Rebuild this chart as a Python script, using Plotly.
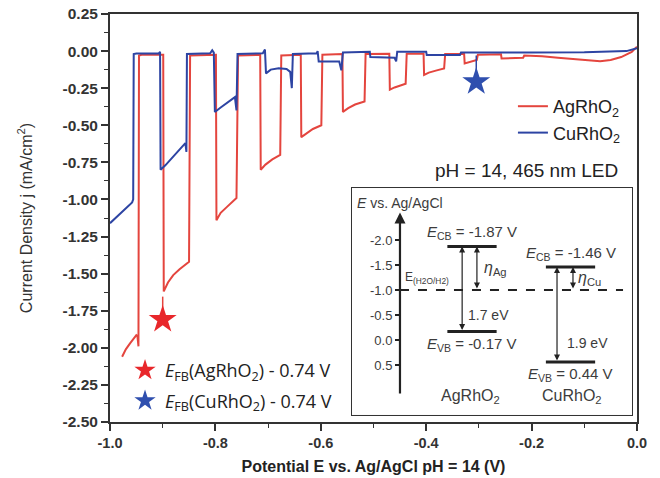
import plotly.graph_objects as go

# ---------------- data ----------------
# AgRhO2 chopped-light LSV: potential (V vs Ag/AgCl) and current density (mA/cm2)
ag_E = [-0.977, -0.970, -0.962, -0.955, -0.950, -0.948, -0.946, -0.945, -0.940, -0.899,
        -0.898, -0.890, -0.880, -0.868, -0.850, -0.848, -0.799,
        -0.798, -0.790, -0.778, -0.760, -0.757, -0.715,
        -0.714, -0.705, -0.692, -0.677, -0.675, -0.638,
        -0.637, -0.628, -0.615, -0.599, -0.597, -0.559,
        -0.558, -0.548, -0.535, -0.517, -0.515, -0.470,
        -0.469, -0.460, -0.439, -0.437, -0.405,
        -0.404, -0.395, -0.380, -0.366, -0.364, -0.328,
        -0.327, -0.315, -0.304, -0.302, -0.258,
        -0.257, -0.216, -0.214, -0.180, -0.150, -0.120, -0.090, -0.070, -0.050,
        -0.030, -0.010, 0.0]
ag_j = [-2.06, -2.01, -1.97, -1.935, -1.915, -1.92, -1.99, -0.03, -0.025, -0.025,
        -1.62, -1.56, -1.51, -1.47, -1.42, -0.03, -0.025,
        -1.14, -1.09, -1.05, -0.99, -0.03, -0.025,
        -0.80, -0.765, -0.73, -0.70, -0.03, -0.025,
        -0.58, -0.555, -0.525, -0.50, -0.025, -0.02,
        -0.41, -0.385, -0.36, -0.34, -0.02, -0.018,
        -0.26, -0.245, -0.22, -0.018, -0.018,
        -0.16, -0.145, -0.13, -0.117, -0.02, -0.02,
        -0.083, -0.07, -0.06, -0.025, -0.022,
        -0.05, -0.045, -0.03, -0.035, -0.045, -0.055, -0.065, -0.068, -0.06,
        -0.04, -0.005, 0.03]

# CuRhO2 chopped-light LSV
cu_E = [-1.000, -0.985, -0.970, -0.958, -0.956, -0.955, -0.950, -0.907, -0.905,
        -0.904, -0.895, -0.880, -0.860, -0.857, -0.855, -0.854, -0.810, -0.806, -0.803,
        -0.801, -0.790, -0.775, -0.763, -0.760, -0.758, -0.710, -0.706,
        -0.704, -0.695, -0.680, -0.665, -0.658, -0.655, -0.653, -0.608, -0.606,
        -0.604, -0.565, -0.561, -0.558, -0.507,
        -0.506, -0.460, -0.457, -0.455, -0.400,
        -0.399, -0.336, -0.334, -0.200, -0.100, -0.020, 0.0]
cu_j = [-1.16, -1.11, -1.065, -1.02, -1.00, -0.02, -0.016, -0.014, -0.005,
        -0.80, -0.77, -0.71, -0.63, -0.62, -0.68, -0.02, -0.015, 0.005, -0.01,
        -0.41, -0.38, -0.34, -0.31, -0.40, -0.02, -0.015, 0.01,
        -0.15, -0.125, -0.115, -0.12, -0.14, -0.25, -0.02, -0.015, 0.0,
        -0.07, -0.07, -0.13, -0.01, -0.005,
        -0.04, -0.045, -0.07, -0.005, -0.005,
        -0.027, -0.027, -0.01, -0.01, -0.008, 0.0, 0.02]

# flat-band potentials - 0.74 V (star markers) and the curve point above each
efb_names = ["AgRhO<sub>2</sub>", "CuRhO<sub>2</sub>"]
efb_E = [-0.900, -0.305]
efb_j = [-1.81, -0.207]
efb_curve_j = [-1.655, -0.03]

# inset band diagram (V vs Ag/AgCl)
materials = ["AgRhO<sub>2</sub>", "CuRhO<sub>2</sub>"]
E_CB = [-1.87, -1.46]
E_VB = [-0.17, 0.44]
gap_text = ["1.7 eV", "1.9 eV"]
eta_text = ["<i>η</i><sub>Ag</sub>", "<i>η</i><sub>Cu</sub>"]
E_H2 = -1.0

x_ticks = [-1.0, -0.8, -0.6, -0.4, -0.2, 0.0]
x_ticktext = ["-1.0", "-0.8", "-0.6", "-0.4", "-0.2", "0.0"]
y_ticks = [0.25, 0.0, -0.25, -0.5, -0.75, -1.0, -1.25, -1.5, -1.75, -2.0, -2.25, -2.5]
y_ticktext = ["0.25", "0.00", "-0.25", "-0.50", "-0.75", "-1.00", "-1.25", "-1.50",
              "-1.75", "-2.00", "-2.25", "-2.50"]
inset_ticks = [-2.0, -1.5, -1.0, -0.5, 0.0, 0.5]
inset_ticktext = ["-2.0", "-1.5", "-1.0", "-0.5", "0.0", "0.5"]

# ---------------- styling ----------------
RED = "#e4453e"
BLUE = "#2d44a3"
STAR_COLORS = ["#e8272b", "#2f4fae"]
AX = "#333333"
INK = "#3c3c3c"
FONT = "Liberation Sans"

fig = go.Figure()
fig.add_trace(go.Scatter(x=ag_E, y=ag_j, mode="lines", name="AgRhO<sub>2</sub>",
                         line=dict(color=RED, width=2), legend="legend"))
fig.add_trace(go.Scatter(x=cu_E, y=cu_j, mode="lines", name="CuRhO<sub>2</sub>",
                         line=dict(color=BLUE, width=2), legend="legend"))
for i in range(2):
    fig.add_trace(go.Scatter(x=[efb_E[i], efb_E[i]], y=[efb_curve_j[i], efb_j[i]],
                             mode="lines", line=dict(color=[RED, BLUE][i], width=1.5),
                             showlegend=False, hoverinfo="skip"))
for i in range(2):
    fig.add_trace(go.Scatter(
        x=[efb_E[i]], y=[efb_j[i]], mode="markers",
        marker=dict(symbol="star", size=21, color=STAR_COLORS[i], line=dict(width=0)),
        name="<i>E</i><sub>FB</sub>(" + efb_names[i] + ") - 0.74 V",
        legend="legend2", legendgroup="g%d" % i))

# ---------------- inset geometry ----------------
bar_half = 0.25
axis_x2 = -0.731
shapes = [
    dict(type="rect", xref="paper", yref="paper", x0=0.4592, x1=0.9905, y0=0.0172, y1=0.5735,
         line=dict(color=AX, width=2), fillcolor="white", layer="below"),
    dict(type="line", xref="x2", yref="y2", x0=axis_x2, x1=1.533, y0=E_H2, y1=E_H2,
         line=dict(color="#222", width=2, dash="dash")),
]
for i in range(2):
    for e in (E_CB[i], E_VB[i]):
        shapes.append(dict(type="line", xref="x2", yref="y2", x0=i - bar_half, x1=i + bar_half,
                           y0=e, y1=e, line=dict(color="#222", width=3)))

ann = []
def txt(x, y, t, size=14, xanchor="center", yshift=0, color=INK, xref="x2", yref="y2", family=FONT):
    ann.append(dict(x=x, y=y, xref=xref, yref=yref, text=t, showarrow=False, xanchor=xanchor,
                    yanchor="middle", yshift=yshift, font=dict(family=family, size=size, color=color)))

def arrow(x, y0, y1, both=True, width=1.2):
    ann.append(dict(x=x, y=y1, ax=x, ay=y0, xref="x2", yref="y2", axref="x2", ayref="y2",
                    text="", showarrow=True, arrowhead=2, arrowsize=1, arrowwidth=width,
                    arrowcolor="#222", arrowside="end+start" if both else "end"))

ann.append(dict(x=axis_x2, y=-2.55, ax=axis_x2, ay=1.1, xref="x2", yref="y2", axref="x2", ayref="y2",
                text="", showarrow=True, arrowhead=2, arrowsize=1, arrowwidth=2.2, arrowcolor="#222"))
txt(-1.19, -2.74, "<i>E</i> vs. Ag/AgCl", size=14, xanchor="left")
txt(-0.70, -1.24, "E<sub>(H2O/H2)</sub>", size=12, xanchor="left")

gap_x = [-0.10, 0.863]
eta_x = [0.05, 1.025]
gap_lbl_x = [-0.06, 0.944]
eta_lbl_x = [0.10, 1.056]
name_x = [-0.02, 1.02]
for i in range(2):
    arrow(gap_x[i], E_VB[i], E_CB[i])
    arrow(eta_x[i], E_H2, E_CB[i])
    txt(i, E_CB[i], "<i>E</i><sub>CB</sub> = %.2f V" % E_CB[i], size=15, yshift=14)
    txt(i, E_VB[i], "<i>E</i><sub>VB</sub> = %.2f V" % E_VB[i], size=15, yshift=-13)
    txt(gap_lbl_x[i], (E_CB[i] + E_VB[i]) / 2 + [0.52, 0.57][i], gap_text[i], xanchor="left")
    txt(eta_lbl_x[i], (E_CB[i] + E_H2) / 2, eta_text[i], size=16, xanchor="left")
    txt(name_x[i], 1.13, materials[i], size=16)

txt(0.9677, 0.6176, "pH = 14, 465 nm LED", size=19, xanchor="right", xref="paper", yref="paper",
    color="#222")

fig.update_layout(
    width=660, height=478,
    margin=dict(l=110, r=23, t=14, b=56),
    paper_bgcolor="white", plot_bgcolor="white",
    font=dict(family=FONT, color=AX),
    showlegend=True,
    xaxis=dict(range=[-1.0, 0.0], automargin=False, tickmode="array", tickvals=x_ticks,
               ticktext=x_ticktext,
               ticks="outside", ticklen=7, tickwidth=1.5, tickcolor=AX,
               showline=True, linewidth=2, linecolor=AX, mirror=True,
               showgrid=False, zeroline=False,
               tickfont=dict(family=FONT, size=14.5, color=AX, weight="bold"),
               minor=dict(tickmode="linear", tick0=-1.0, dtick=0.1, ticks="outside",
                          ticklen=4, tickwidth=1.2, tickcolor=AX),
               title=dict(text="Potential E vs. Ag/AgCl pH = 14 (V)", standoff=10,
                          font=dict(family=FONT, size=16, color="#222", weight="bold"))),
    yaxis=dict(range=[-2.5, 0.25], automargin=False, tickmode="array", tickvals=y_ticks,
               ticktext=y_ticktext,
               ticks="outside", ticklen=7, tickwidth=1.5, tickcolor=AX,
               showline=True, linewidth=2, linecolor=AX, mirror=True,
               showgrid=False, zeroline=False,
               tickfont=dict(family=FONT, size=15.5, color=AX, weight="bold"),
               minor=dict(tickmode="linear", tick0=0.0, dtick=0.125, ticks="outside",
                          ticklen=4, tickwidth=1.2, tickcolor=AX),
               title=dict(text="Current Density j (mA/cm<sup>2</sup>)", standoff=26,
                          font=dict(family=FONT, size=16, color=AX))),
    xaxis2=dict(domain=[0.4592, 0.9905], range=[-1.218, 1.624], anchor="y2", visible=False,
                automargin=False),
    yaxis2=dict(domain=[0.0172, 0.5735], range=[1.5, -3.04], anchor="free", position=0.5503,
                automargin=False,
                showline=False, showgrid=False, zeroline=False, tickmode="array",
                tickvals=inset_ticks, ticktext=inset_ticktext, ticks="outside", ticklen=5,
                tickwidth=1.5, tickcolor="#222",
                tickfont=dict(family=FONT, size=13, color=INK)),
    legend=dict(x=0.979, xanchor="right", y=0.8186, yanchor="top", bgcolor="rgba(0,0,0,0)",
                font=dict(family=FONT, size=18, color="#222"), tracegroupgap=0),
    legend2=dict(x=0.0285, xanchor="left", y=0.1716, yanchor="top", bgcolor="rgba(0,0,0,0)",
                 font=dict(family="Open Sans", size=18, color="#222"), tracegroupgap=4),
    shapes=shapes,
    annotations=ann,
)

fig.write_html("out.html")
